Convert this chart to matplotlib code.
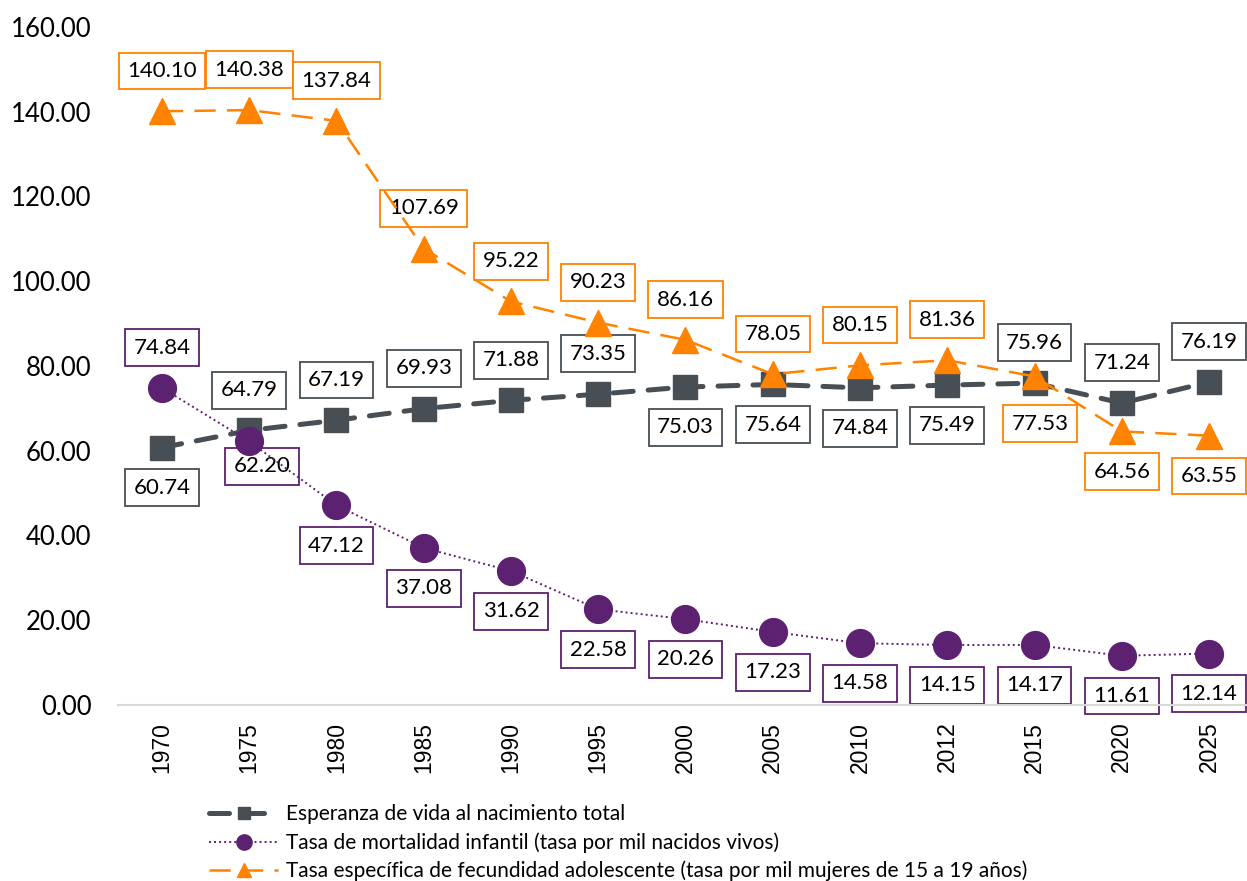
import numpy as np
import matplotlib.pyplot as plt

# Datos
anios = ['1970', '1975', '1980', '1985', '1990', '1995', '2000', '2005',
         '2010', '2012', '2015', '2020', '2025']
esperanza = [60.74, 64.79, 67.19, 69.93, 71.88, 73.35, 75.03, 75.64,
             74.84, 75.49, 75.96, 71.24, 76.19]
mortalidad = [74.84, 62.20, 47.12, 37.08, 31.62, 22.58, 20.26, 17.23,
              14.58, 14.15, 14.17, 11.61, 12.14]
fecundidad = [140.10, 140.38, 137.84, 107.69, 95.22, 90.23, 86.16, 78.05,
              80.15, 81.36, 77.53, 64.56, 63.55]

nombres = ['Esperanza de vida al nacimiento total',
           'Tasa de mortalidad infantil (tasa por mil nacidos vivos)',
           'Tasa específica de fecundidad adolescente (tasa por mil mujeres de 15 a 19 años)']

# Colores
gris = '#474f55'
morado = '#5c2170'
naranja = '#ff8200'

# Etiquetas: +1 arriba, -1 abajo
pos_esp = [-1, 1, 1, 1, 1, 1, -1, -1, -1, -1, 1, 1, 1]
pos_mort = [1] + [-1] * 12
pos_fec = [1] * 10 + [-1, -1, -1]

plt.rcParams['font.family'] = ['Lato', 'DejaVu Sans']

fig = plt.figure(figsize=(12.47, 8.81), dpi=100)
ax = fig.add_axes([0.0946, 0.1998, 0.9054, 0.7696])

x = np.arange(len(anios))

l1, = ax.plot(x, esperanza, color=gris, lw=3.6, dashes=(4, 3),
              dash_capstyle='round', marker='s', ms=17, zorder=3,
              label=nombres[0])
l2, = ax.plot(x, mortalidad, color=morado, lw=1.4, dashes=(1, 1.6),
              marker='o', ms=20, zorder=4, label=nombres[1])
l3, = ax.plot(x, fecundidad, color=naranja, lw=1.8, dashes=(8.5, 4.5),
              marker='^', ms=19, zorder=5, label=nombres[2])


def etiquetas(valores, posiciones, color, extra=None):
    extra = extra or {}
    for i, (v, p) in enumerate(zip(valores, posiciones)):
        dx, dy = extra.get(i, (0, 29 * p))
        ax.annotate(f'{v:.2f}', (i, v), xytext=(dx, dy),
                    textcoords='offset points', ha='center', va='center',
                    fontsize=16, color='black', zorder=2,
                    bbox=dict(boxstyle='square,pad=0.38', fc='white',
                              ec=color, lw=1.3))


etiquetas(esperanza, pos_esp, gris)
etiquetas(mortalidad, pos_mort, morado, {1: (9, -18)})
etiquetas(fecundidad, pos_fec, naranja, {10: (4, -34)})

ax.set_xlim(-0.504, 12.435)
ax.set_ylim(0, 160)
ax.set_yticks(np.arange(0, 161, 20))
ax.set_yticklabels([f'{t:.2f}' for t in np.arange(0, 161, 20)], fontsize=18.5)
ax.set_xticks(x)
ax.set_xticklabels(anios, rotation=90, fontsize=16.5, family='Liberation Sans')
ax.tick_params(axis='both', length=0)
ax.tick_params(axis='y', pad=19)
ax.tick_params(axis='x', pad=12)

for s in ['top', 'right', 'left']:
    ax.spines[s].set_visible(False)
ax.spines['bottom'].set_color('#d9d9d9')
ax.spines['bottom'].set_linewidth(1.5)

fig.legend(handles=[l1, l2, l3], loc='upper left',
           bbox_to_anchor=(0.168, 0.087), frameon=False, fontsize=15,
           handlelength=3.3, handletextpad=0.35, labelspacing=0.38,
           markerscale=0.55, borderaxespad=0, borderpad=0)

fig.savefig('out.png', dpi=100)
